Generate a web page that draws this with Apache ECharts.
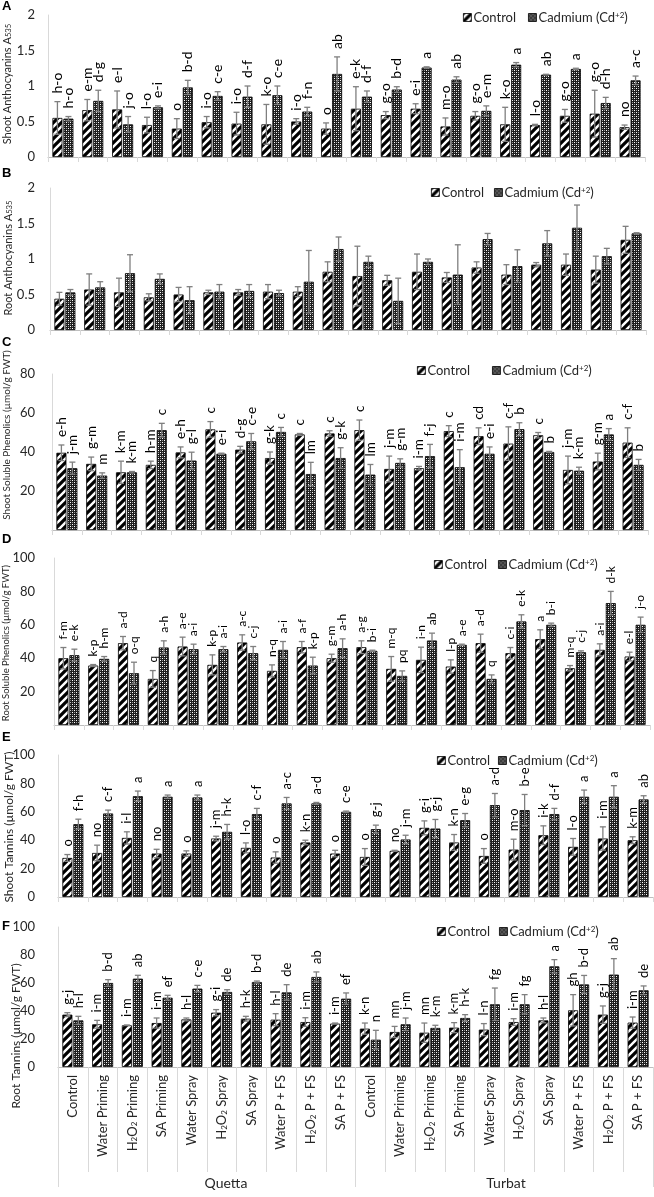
<!DOCTYPE html>
<html><head><meta charset="utf-8">
<script src="https://cdn.jsdelivr.net/npm/echarts@6/dist/echarts.min.js"></script>
<style>html,body{margin:0;padding:0;background:#fff}#c{width:654px;height:1197px}</style>
</head><body><div id="c"></div>
<script>
// ---------- DATA ----------
const categories = ['Control','Water Priming','H2O2 Priming','SA Priming','Water Spray','H2O2 Spray','SA Spray','Water P + FS','H2O2 P + FS','SA P + FS',
                    'Control','Water Priming','H2O2 Priming','SA Priming','Water Spray','H2O2 Spray','SA Spray','Water P + FS','H2O2 P + FS','SA P + FS'];
const locations = ['Quetta','Turbat'];
const seriesNames = ['Control','Cadmium'];
const panelLetters = ['A','B','C','D','E','F'];
const axisTitles = ['Shoot Anthocyanins A{sub|535}','Root Anthocyanins A{sub|535}','Shoot Soluble Phenolics (µmol/g FWT)',
                    'Root Soluble Phenolics (µmol/g FWT)','Shoot Tannins (µmol/g FWT)','Root Tannins (µmol/g FWT)'];

// A: Shoot anthocyanins
const shootAnthoCtrl    = [0.55,0.66,0.67,0.45,0.40,0.49,0.47,0.46,0.50,0.40, 0.68,0.59,0.68,0.43,0.58,0.46,0.45,0.58,0.61,0.42];
const shootAnthoCtrlErr = [0.23,0.15,0.26,0.11,0.14,0.08,0.16,0.28,0.04,0.08, 0.31,0.05,0.07,0.12,0.06,0.24,0.01,0.09,0.33,0.03];
const shootAnthoCd      = [0.54,0.79,0.46,0.70,0.98,0.86,0.85,0.87,0.64,1.17, 0.85,0.95,1.26,1.09,0.65,1.30,1.16,1.24,0.76,1.08];
const shootAnthoCdErr   = [0.03,0.15,0.11,0.02,0.10,0.06,0.15,0.13,0.06,0.24, 0.08,0.04,0.01,0.04,0.07,0.03,0.005,0.01,0.08,0.06];
const shootAnthoCtrlLet = ['h-o','e-m','e-l','l-o','o','i-o','i-o','k-o','i-o','o', 'e-k','g-o','e-i','m-o','g-o','k-o','l-o','g-o','g-o','no'];
const shootAnthoCdLet   = ['h-o','d-g','j-o','e-i','b-d','c-e','d-f','c-e','f-n','ab', 'd-f','b-d','a','ab','e-m','a','ab','a','d-h','a-c'];

// B: Root anthocyanins
const rootAnthoCtrl    = [0.44,0.57,0.53,0.46,0.50,0.53,0.53,0.54,0.54,0.82, 0.76,0.70,0.82,0.74,0.88,0.78,0.92,0.92,0.85,1.27];
const rootAnthoCtrlErr = [0.09,0.22,0.20,0.05,0.10,0.03,0.04,0.10,0.07,0.14, 0.42,0.07,0.25,0.07,0.08,0.14,0.03,0.15,0.19,0.19];
const rootAnthoCd      = [0.53,0.60,0.80,0.72,0.42,0.54,0.55,0.52,0.68,1.14, 0.96,0.41,0.96,0.78,1.28,0.90,1.22,1.44,1.04,1.36];
const rootAnthoCdErr   = [0.04,0.08,0.26,0.07,0.19,0.10,0.09,0.04,0.44,0.17, 0.08,0.32,0.04,0.42,0.08,0.23,0.18,0.32,0.11,0.01];

// C: Shoot soluble phenolics
const shootPhenCtrl    = [39.6,33.9,29.6,33.4,39.8,51.6,41.2,36.9,49.0,49.5, 51.2,31.3,31.7,50.7,48.1,44.3,48.6,30.8,35.1,44.8];
const shootPhenCtrlErr = [4.0,3.5,5.7,1.9,2.8,4.0,1.7,3.1,0.5,1.4, 5.2,6.6,0.9,2.8,4.3,8.6,1.4,7.1,4.3,7.6];
const shootPhenCd      = [31.7,27.9,29.6,51.2,35.6,39.1,45.5,50.3,28.7,36.9, 28.4,34.4,37.9,32.2,39.1,51.7,40.0,30.4,49.0,33.4];
const shootPhenCdErr   = [3.1,1.4,0.4,3.5,4.3,0.3,4.0,2.3,6.0,5.3, 5.2,2.1,6.0,9.0,3.5,3.3,0.3,1.8,3.0,2.8];
const shootPhenCtrlLet = ['e-h','g-m','k-m','h-m','e-h','c','d-g','g-k','c','c', 'c','j-m','i-m','c','cd','c-f','c','j-m','g-m','c-f'];
const shootPhenCdLet   = ['j-m','m','k-m','c','g-l','e-i','c-e','c','lm','g-k', 'lm','g-m','f-j','i-m','e-i','b','b','k-m','a','b'];

// D: Root soluble phenolics
const rootPhenCtrl    = [40.0,35.6,49.0,27.6,47.0,36.0,49.4,32.4,46.6,40.0, 46.6,33.6,39.0,35.0,49.0,43.0,51.4,34.0,45.0,41.0];
const rootPhenCtrlErr = [6.4,0.6,4.0,5.0,5.6,6.0,4.6,3.6,3.4,2.4, 3.8,7.4,7.6,4.0,5.4,3.4,5.6,1.6,3.6,2.6];
const rootPhenCd      = [41.8,39.6,31.0,46.4,45.4,45.4,43.0,45.0,35.6,46.0, 44.4,29.4,50.6,48.0,27.6,62.0,60.0,43.6,73.0,60.0];
const rootPhenCdErr   = [3.6,1.4,6.6,4.0,3.0,1.6,4.0,5.0,5.0,5.6, 0.4,3.0,4.4,0.4,2.4,4.0,1.0,0.8,7.0,4.6];
const rootPhenCtrlLet = ['f-m','k-p','a-d','q','a-e','k-p','a-c','n-q','a-f','g-m', 'a-g','m-q','i-n','l-p','a-d','c-i','a','m-q','a-i','e-l'];
const rootPhenCdLet   = ['e-k','h-m','o-q','a-h','a-i','a-i','c-j','a-i','k-p','a-h', 'b-i','pq','ab','a-e','q','e-k','b-i','c-j','d-k','j-o'];

// E: Shoot tannins
const shootTanCtrl    = [27.5,31.0,41.6,30.6,30.6,41.2,34.6,27.8,38.4,30.6, 28.2,32.5,48.7,38.4,28.9,33.4,43.5,35.3,41.2,40.0];
const shootTanCtrlErr = [2.4,5.5,4.3,3.0,1.9,1.6,3.5,4.0,1.6,2.3, 5.9,0.4,4.9,5.6,5.2,7.3,6.6,5.9,8.2,2.4];
const shootTanCd      = [51.3,58.8,71.0,70.6,70.1,45.9,58.4,65.9,65.9,60.0, 47.8,40.5,48.2,54.1,64.7,61.2,58.4,70.6,70.6,68.7];
const shootTanCdErr   = [3.5,2.4,3.6,1.2,1.7,5.2,4.0,4.2,0.7,0.5, 2.8,3.0,6.4,4.7,8.2,11.0,4.0,4.7,7.8,2.6];
const shootTanCtrlLet = ['o','no','i-l','no','o','j-m','l-o','o','k-n','o', 'o','no','g-i','k-n','o','m-o','i-k','l-o','i-m','k-m'];
const shootTanCdLet   = ['f-h','c-f','a','a','a','h-k','c-f','a-c','a-d','c-e', 'g-j','j-m','g-j','e-g','a-d','b-e','d-f','a','a','ab'];

// F: Root tannins
const rootTanCtrl    = [37.4,30.5,29.8,31.4,34.0,38.8,34.5,33.8,32.1,31.0, 27.4,25.0,24.5,28.1,26.7,32.1,33.3,40.5,37.4,31.7];
const rootTanCtrlErr = [1.4,2.8,0.2,3.6,1.0,2.2,1.7,4.3,3.1,0.4, 4.0,4.0,6.9,3.6,4.3,2.4,1.7,11.2,6.2,4.0];
const rootTanCd      = [33.3,60.0,63.1,49.5,56.0,53.6,60.7,53.3,64.3,48.8, 19.5,30.5,27.9,35.0,44.8,44.8,71.9,59.0,66.0,54.8];
const rootTanCdErr   = [2.9,2.4,2.4,1.7,2.3,1.6,0.7,5.5,3.6,4.1, 6.7,4.5,1.9,2.4,11.6,6.9,4.8,6.4,11.4,3.1];
const rootTanCtrlLet = ['g-j','i-m','i-m','i-m','h-l','g-i','h-k','h-l','i-m','i-m', 'k-n','mn','mn','k-m','l-n','i-m','h-l','gh','g-j','i-m'];
const rootTanCdLet   = ['h-l','b-d','ab','ef','c-e','de','b-d','de','ab','ef', 'n','j-m','k-m','h-k','fg','fg','a','b-d','ab','de'];

// y-axis scales
const yMax      = [2, 2, 80, 100, 100, 100];
const yInterval = [0.5, 0.5, 20, 20, 20, 20];

// ---------- STYLE / LAYOUT ----------
const FONT = 'Lato';
const panelData = [
  [shootAnthoCtrl, shootAnthoCtrlErr, shootAnthoCd, shootAnthoCdErr, shootAnthoCtrlLet, shootAnthoCdLet],
  [rootAnthoCtrl, rootAnthoCtrlErr, rootAnthoCd, rootAnthoCdErr, null, null],
  [shootPhenCtrl, shootPhenCtrlErr, shootPhenCd, shootPhenCdErr, shootPhenCtrlLet, shootPhenCdLet],
  [rootPhenCtrl, rootPhenCtrlErr, rootPhenCd, rootPhenCdErr, rootPhenCtrlLet, rootPhenCdLet],
  [shootTanCtrl, shootTanCtrlErr, shootTanCd, shootTanCdErr, shootTanCtrlLet, shootTanCdLet],
  [rootTanCtrl, rootTanCtrlErr, rootTanCd, rootTanCdErr, rootTanCtrlLet, rootTanCdLet]
];
const layout = [
  {grid:{left:48,right:9,top:15,height:142}, lab:13, let:14, showMin:true,  legend:{left:458,top:6,gap:12},  title:{x:7,y:84,size:11}, letterY:7},
  {grid:{left:50,right:8,top:188,height:142}, lab:13, let:13, showMin:true,  legend:{left:426,top:181,gap:10}, title:{x:8,y:258,size:11}, letterY:174},
  {grid:{left:52,right:6,top:374,height:156}, lab:13, let:13.5, showMin:false, legend:{left:412,top:359,gap:22}, title:{x:7,y:435,size:10}, letterY:343},
  {grid:{left:54,right:4,top:558,height:167}, lab:13, let:12, showMin:false, legend:{left:429,top:553,gap:11}, title:{x:6,y:643,size:9.5}, letterY:540},
  {grid:{left:58,right:1,top:755,height:142}, lab:13, let:13, showMin:true,  legend:{left:432,top:749,gap:8},  title:{x:9,y:827,size:12}, letterY:738},
  {grid:{left:58,right:1,top:927,height:140}, lab:13, let:13, showMin:true,  legend:{left:432,top:920,gap:9}, title:{x:16,y:1036,size:12}, letterY:927}
];

function makePattern(kind){
  const c = document.createElement('canvas');
  if (kind === 'stripe') {
    c.width = 8; c.height = 8;
    const g = c.getContext('2d');
    g.fillStyle = '#fff'; g.fillRect(0,0,8,8);
    g.strokeStyle = '#000'; g.lineWidth = 3.2;
    g.beginPath();
    g.moveTo(-2,10); g.lineTo(10,-2);
    g.moveTo(-2,2); g.lineTo(2,-2);
    g.moveTo(6,10); g.lineTo(10,6);
    g.stroke();
  } else {
    c.width = 4; c.height = 4;
    const g = c.getContext('2d');
    g.fillStyle = '#1e1e1e'; g.fillRect(0,0,4,4);
    g.fillStyle = '#ffffff'; g.fillRect(0,0,1,1); g.fillRect(2,2,1,1);
    g.fillStyle = '#9a9a9a'; g.fillRect(2,0,1,1); g.fillRect(0,2,1,1);
  }
  return {image: c, repeat: 'repeat'};
}
const ctrlFill = makePattern('stripe');
const cdFill = makePattern('check');

const BAR_W = 10, BAR_OFF = 5.5;

function errSeries(pi, vals, errs, letters, offset, fontSize){
  return {
    type: 'custom', xAxisIndex: pi, yAxisIndex: pi, z: 5, silent: true, clip: false,
    data: vals.map((v, i) => [i, v, errs[i]]),
    renderItem: function(params, api){
      const i = params.dataIndex;
      const v = api.value(1), e = api.value(2);
      const top = api.coord([i, v + e]);
      const bot = api.coord([i, Math.max(0, v - e)]);
      const x = top[0] + offset;
      const st = {stroke: '#7f7f7f', lineWidth: 1.3};
      const ch = [
        {type:'line', shape:{x1:x, y1:top[1], x2:x, y2:bot[1]}, style: st},
        {type:'line', shape:{x1:x-3, y1:top[1], x2:x+3, y2:top[1]}, style: st},
        {type:'line', shape:{x1:x-3, y1:bot[1], x2:x+3, y2:bot[1]}, style: st}
      ];
      if (letters) {
        ch.push({type:'text', x: x, y: top[1] - 8, rotation: Math.PI/2,
          style:{text: letters[i], fontSize: fontSize, fontFamily: FONT, fill: '#000', align: 'left', verticalAlign: 'middle'}});
      }
      return {type:'group', children: ch};
    }
  };
}

const grids = [], xAxes = [], yAxes = [], series = [], legends = [], graphics = [];
layout.forEach((L, pi) => {
  const d = panelData[pi];
  grids.push(Object.assign({outerBoundsMode:'none', containLabel:false}, L.grid));
  const isLast = pi === 5;
  xAxes.push({
    type: 'category', gridIndex: pi, data: categories, boundaryGap: true,
    axisLine: {show: true, lineStyle: {color: '#bfbfbf', width: 1}},
    axisTick: {show: true, interval: 0, length: isLast ? 105 : 5, lineStyle: {color: '#d9d9d9'}},
    axisLabel: isLast ? {
      show: true, interval: 0, rotate: 90, margin: 8, fontFamily: FONT, fontSize: 13, color: '#262626',
      formatter: v => v.replace('H2O2', 'H{sub|2}O{sub|2}'),
      rich: {sub: {fontSize: 8, fontFamily: FONT, color: '#262626', verticalAlign: 'bottom', lineHeight: 8}}
    } : {show: false}
  });
  yAxes.push({
    type: 'value', gridIndex: pi, min: 0, max: yMax[pi], interval: yInterval[pi],
    axisLine: {show: true, lineStyle: {color: '#d9d9d9'}},
    axisTick: {show: false}, splitLine: {show: false},
    axisLabel: {fontFamily: FONT, fontSize: L.lab, color: '#262626', margin: L.grid.left - 35, showMinLabel: L.showMin}
  });
  series.push({
    name: seriesNames[0], type: 'bar', xAxisIndex: pi, yAxisIndex: pi, data: d[0],
    barWidth: BAR_W, barGap: '10%', itemStyle: {color: ctrlFill, borderColor: '#000', borderWidth: 0.8}
  });
  series.push({
    name: seriesNames[1], type: 'bar', xAxisIndex: pi, yAxisIndex: pi, data: d[2],
    barWidth: BAR_W, barGap: '10%', itemStyle: {color: cdFill, borderColor: '#000', borderWidth: 0.8}
  });
  series.push(errSeries(pi, d[0], d[1], d[4], -BAR_OFF, L.let));
  series.push(errSeries(pi, d[2], d[3], d[5], BAR_OFF, L.let));
  legends.push({
    data: seriesNames, left: L.legend.left, top: L.legend.top, orient: 'horizontal', icon: 'rect',
    itemWidth: 8, itemHeight: 8, itemGap: L.legend.gap, selectedMode: false,
    itemStyle: {borderColor: '#000', borderWidth: 0.8},
    formatter: n => n === 'Cadmium' ? 'Cadmium (Cd{sup|+2})' : n,
    textStyle: {fontFamily: FONT, fontSize: 13, color: '#262626', padding: [0,0,0,-3],
      rich: {sup: {fontSize: 8, fontFamily: FONT, color: '#262626', verticalAlign: 'top', lineHeight: 8}}}
  });
  graphics.push({type:'text', left: 2, top: L.letterY - 7,
    style:{text: panelLetters[pi], font: 'bold 13px "Liberation Sans"', fill: '#000'}});
  graphics.push({type:'text', x: L.title.x, y: L.title.y, rotation: Math.PI/2,
    style:{text: axisTitles[pi], fontFamily: FONT, fontSize: L.title.size, fill: '#262626', align: 'center', verticalAlign: 'middle',
      rich: {sub: {fontSize: L.title.size * 0.7, fontFamily: FONT, fill: '#262626', verticalAlign: 'bottom', lineHeight: 6}}}});
});
// group axis (Quetta / Turbat separators) on last grid
xAxes.push({
  type: 'category', gridIndex: 5, data: locations, position: 'bottom',
  axisLine: {show: false}, axisTick: {show: true, interval: 0, length: 120, lineStyle: {color: '#d9d9d9'}},
  axisLabel: {show: false}
});
graphics.push({type:'text', x: 226, y: 1183, style:{text: locations[0], fontFamily: FONT, fontSize: 14, fill: '#262626', align:'center', verticalAlign:'middle'}});
graphics.push({type:'text', x: 506, y: 1183, style:{text: locations[1], fontFamily: FONT, fontSize: 14, fill: '#262626', align:'center', verticalAlign:'middle'}});

const chart = echarts.init(document.getElementById('c'), null, {renderer: 'canvas'});
chart.setOption({
  animation: false,
  backgroundColor: '#fff',
  grid: grids, xAxis: xAxes, yAxis: yAxes, legend: legends, series: series, graphic: graphics
});
</script></body></html>
